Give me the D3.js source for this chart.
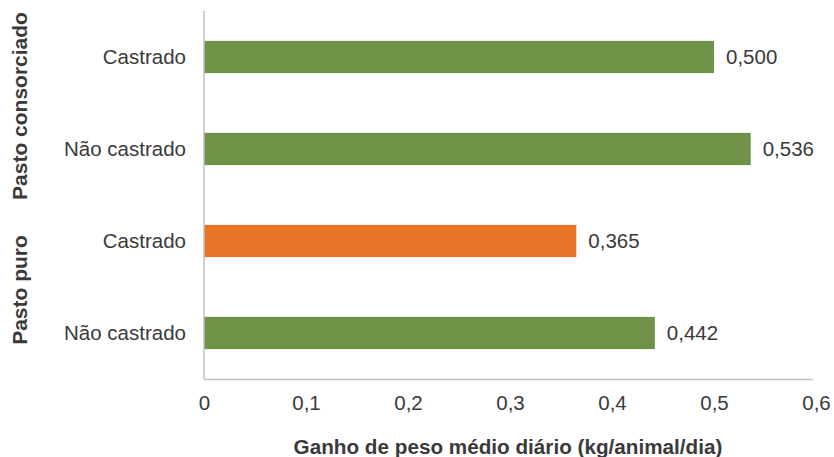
<!DOCTYPE html>
<html>
<head>
<meta charset="utf-8">
<script src="https://cdn.jsdelivr.net/npm/d3@7"></script>
<style>
  html, body { margin: 0; padding: 0; background: #ffffff; }
  svg { display: block; }
  text { font-family: "Liberation Sans", Arial, Helvetica, sans-serif; fill: #3a3a3a; }
</style>
</head>
<body>
<svg id="chart" width="834" height="457"></svg>
<script>
// Ganho de peso médio diário por sistema de pastejo e condição sexual
const groups = ["Pasto consorciado", "Pasto consorciado", "Pasto puro", "Pasto puro"];
const categories = ["Castrado", "Não castrado", "Castrado", "Não castrado"];
const values = [0.500, 0.536, 0.365, 0.442];
const xTicks = [0, 0.1, 0.2, 0.3, 0.4, 0.5, 0.6];
const xTitle = "Ganho de peso médio diário (kg/animal/dia)";

const rows = categories.map((c, i) => ({ key: i, group: groups[i], cat: c, value: values[i] }));

const svg = d3.select("#chart");
const plotLeft = 204, plotRight = 816, plotTop = 11, plotBottom = 379;

const x = d3.scaleLinear().domain([0, 0.6]).range([plotLeft, plotRight]);
const y = d3.scaleBand().domain(rows.map(d => d.key)).range([plotTop, plotBottom])
  .paddingInner(0.65).paddingOuter(0.325);

const fmt = v => d3.format(".3f")(v).replace(".", ",");
const tickFmt = v => (v === 0 ? "0" : d3.format(".1f")(v).replace(".", ","));

// orange marks the pure-pasture castrated group
const color = d => (d.group === "Pasto puro" && d.cat === "Castrado") ? "#e87226" : "#709247";

// bars
svg.append("g").selectAll("rect").data(rows).join("rect")
  .attr("x", x(0))
  .attr("y", d => y(d.key))
  .attr("width", d => x(d.value) - x(0))
  .attr("height", y.bandwidth())
  .attr("fill", color);

// value labels
svg.append("g").selectAll("text").data(rows).join("text")
  .attr("x", d => x(d.value) + 12)
  .attr("y", d => y(d.key) + y.bandwidth() / 2)
  .attr("dy", "0.35em")
  .attr("font-size", 20.5)
  .text(d => fmt(d.value));

// x axis
const xAxis = svg.append("g")
  .attr("transform", `translate(0,${plotBottom})`)
  .call(d3.axisBottom(x).tickValues(xTicks).tickFormat(tickFmt).tickSize(0).tickPadding(16));
xAxis.select(".domain").attr("stroke", "#c0c0c0").attr("stroke-width", 1.5)
  .attr("d", `M${plotLeft},0.5H${x(0.6) - 3}`);
xAxis.selectAll(".tick text")
  .attr("font-size", 20.5)
  .attr("fill", "#3a3a3a")
  .style("font-family", "'Liberation Sans', Arial, sans-serif");

// y axis line
svg.append("line")
  .attr("x1", plotLeft).attr("x2", plotLeft)
  .attr("y1", plotTop).attr("y2", plotBottom)
  .attr("stroke", "#c0c0c0").attr("stroke-width", 1.5);

// category labels
svg.append("g").selectAll("text").data(rows).join("text")
  .attr("x", 186)
  .attr("y", d => y(d.key) + y.bandwidth() / 2)
  .attr("dy", "0.35em")
  .attr("text-anchor", "end")
  .attr("font-size", 20.5)
  .text(d => d.cat);

// group labels, rotated
const groupNames = Array.from(new Set(groups));
const groupCenters = groupNames.map(g => {
  const ks = rows.filter(r => r.group === g);
  const c0 = y(ks[0].key) + y.bandwidth() / 2;
  const c1 = y(ks[ks.length - 1].key) + y.bandwidth() / 2;
  return { name: g, cy: (c0 + c1) / 2 };
});
svg.append("g").selectAll("text").data(groupCenters).join("text")
  .attr("transform", d => `translate(19.5,${d.cy + 3}) rotate(-90)`)
  .attr("text-anchor", "middle")
  .attr("dy", "0.35em")
  .attr("font-size", 21)
  .attr("font-weight", "bold")
  .text(d => d.name);

// x title
svg.append("text")
  .attr("x", (plotLeft + plotRight) / 2 - 2)
  .attr("y", 447)
  .attr("dy", "0.35em")
  .attr("text-anchor", "middle")
  .attr("font-size", 20.7)
  .attr("font-weight", "bold")
  .text(xTitle);
</script>
</body>
</html>
